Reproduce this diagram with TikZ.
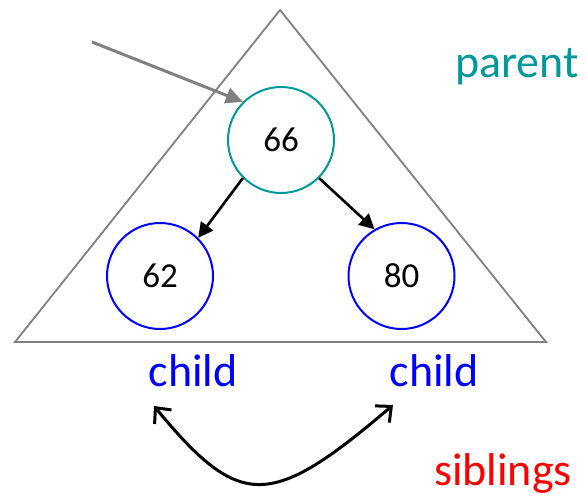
\documentclass[tikz,border=0pt]{standalone}
\usepackage{fontspec}
\setmainfont{Carlito}
\usetikzlibrary{arrows.meta}
\definecolor{teal1}{RGB}{0,153,153}
\definecolor{gray1}{RGB}{128,128,128}
\tikzset{
  keynode/.style={circle, draw, line width=2pt, minimum size=106pt, inner sep=0pt, font=\fontsize{35}{40}\selectfont},
  lbl/.style={font=\fontsize{46}{50}\selectfont, inner sep=0pt},
  edge/.style={line width=2.6pt, -{Triangle[length=15pt,width=15pt]}},
}
\begin{document}
\begin{tikzpicture}[x=1pt,y=-1pt]
\useasboundingbox (0,0) rectangle (587,499);
% triangle
\coordinate (apex) at (280,10);
\coordinate (bl) at (15,342);
\coordinate (br) at (546,342);
\draw[gray1, line width=1.8pt] (bl) -- (apex) -- (br) -- cycle;
% nodes
\node[keynode, draw=teal1] (n66) at (281,140) {66};
\node[keynode, draw=blue] (n62) at (160,276) {62};
\node[keynode, draw=blue] (n80) at (401.5,276) {80};
% pointer
\coordinate (ptr) at (92,42);
\draw[gray1, line width=3pt, -{Triangle[length=17pt,width=16pt]}] (ptr) -- (n66.135);
% edges
\draw[edge] (n66.225) -- (n62.45);
\draw[edge] (n66.315) -- (n80.120);
% labels
\node[lbl, text=teal1] (parent) at (517,67) {parent};
\node[lbl, text=blue] (c1) at (193,371) {child};
\node[lbl, text=blue] (c2) at (434,371) {child};
\node[lbl, text=red] (sib) at (503,473) {siblings};
% sibling arrow
\coordinate (s1) at (154,406);
\coordinate (s2) at (393,405);
\draw[line width=3pt, {Straight Barb[length=12pt,width=22pt]}-{Straight Barb[length=12pt,width=22pt]}]
  (s1) .. controls (240,510) and (270,510) .. (s2);
\end{tikzpicture}
\end{document}
